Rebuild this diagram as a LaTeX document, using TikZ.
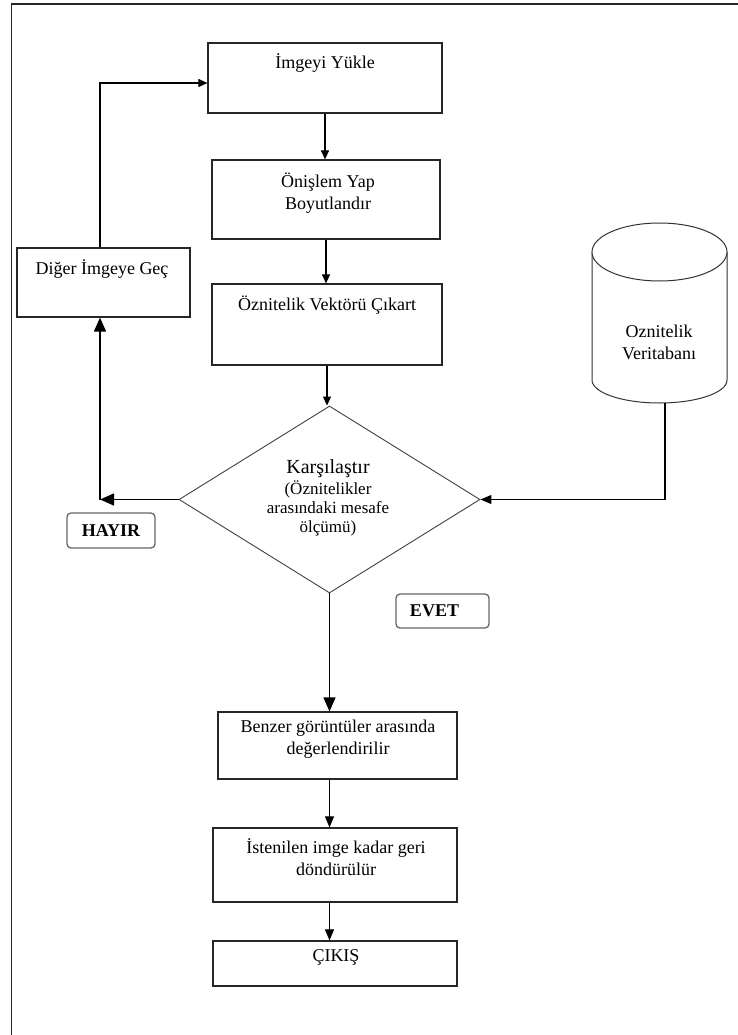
\documentclass[tikz,border=0pt]{standalone}
\usepackage{fontspec}
\setmainfont{Liberation Serif}
\usetikzlibrary{arrows.meta,shapes.geometric}
\begin{document}
\begin{tikzpicture}[x=1pt,y=-1pt,
 box/.style={draw=black!85, line width=1.2pt, rectangle, inner sep=0pt},
 txt/.style={inner sep=0pt, align=center, font=\fontsize{18}{22}\selectfont},
 flag/.style={draw=black!60, line width=1.3pt, rounded corners=4pt, rectangle, inner sep=0pt},
 flagtxt/.style={inner sep=0pt, font=\fontsize{18}{22}\selectfont\bfseries},
 conn/.style={draw=black, line width=1.1pt},
 arrS/.style={conn, -{Triangle[length=9pt,width=8pt]}},
 arrM/.style={conn, -{Triangle[length=11pt,width=9pt]}},
 arrL/.style={conn, line width=1.4pt, -{Triangle[length=14pt,width=12pt]}},
]
\useasboundingbox (0,0) rectangle (738,1035);
% frame
\draw[line width=1.6pt, black!85] (11.5,1035) -- (11.5,4) -- (738,4);

% boxes
\node[box, minimum width=234pt, minimum height=70pt] (load) at (325,78) {};
\node[txt] (loadt) at (325,63) {İmgeyi Yükle};

\node[box, minimum width=228pt, minimum height=79pt] (pre) at (326,199.5) {};
\node[txt] (pret) at (328,193) {Önişlem Yap\\Boyutlandır};

\node[box, minimum width=230pt, minimum height=81pt] (feat) at (327,324.5) {};
\node[txt] (featt) at (327,305) {Öznitelik Vektörü Çıkart};

\node[box, minimum width=173pt, minimum height=69pt] (next) at (103.5,282.5) {};
\node[txt] (nextt) at (102,269) {Diğer İmgeye Geç};

% decision
\node[diamond, draw=black!75, line width=0.9pt, minimum width=301pt, minimum height=187pt, inner sep=0pt] (cmp) at (329.5,499.5) {};
\node[inner sep=0pt, align=center, font=\fontsize{17}{19}\selectfont] (cmpt) at (328,498)
 {{\fontsize{20}{19}\selectfont Karşılaştır}\\[2pt](Öznitelikler\\arasındaki mesafe\\ölçümü)};

% database cylinder
\draw[line width=1pt, black!80] (592,252) -- (592,380) arc[start angle=180, end angle=360, x radius=67.5pt, y radius=23pt] -- (727,252);
\draw[line width=1pt, black!80, fill=white] (659.5,252) ellipse [x radius=67.5pt, y radius=29pt];
\node[txt] (dbt) at (659,342) {Oznitelik\\Veritabanı};
\coordinate (dbb) at (665,403);

% flags
\node[flag, minimum width=88pt, minimum height=35pt] (no) at (111,530.5) {};
\node[flagtxt] (not) at (111,530.5) {HAYIR};
\node[flag, minimum width=93pt, minimum height=34pt] (yes) at (442.5,611) {};
\node[flagtxt] (yest) at (434.5,611) {EVET};

% lower boxes
\node[box, minimum width=239pt, minimum height=67pt] (eval) at (337.5,745.5) {};
\node[txt] (evalt) at (338,739) {Benzer görüntüler arasında\\değerlendirilir};

\node[box, minimum width=244pt, minimum height=74pt] (ret) at (335,865) {};
\node[txt] (rett) at (336,857.5) {İstenilen imge kadar geri\\döndürülür};

\node[box, minimum width=244pt, minimum height=45pt] (out) at (335,963.5) {};
\node[txt] (outt) at (336,957) {ÇIKIŞ};

% connectors
\draw[arrS] (load.south) -- (load.south |- pre.north);
\draw[arrS] (pre.south) -- (pre.south |- feat.north);
\draw[arrS] (feat.south) -- (feat.south |- cmp.north);
\draw[arrM] (dbb) |- (cmp.east);

\coordinate (hc) at (100,499.5);
\draw[arrL] (cmp.west) -- (hc);
\draw[arrL] (hc) -- (hc |- next.south);
\draw[arrS] (next.north -| hc) |- ([yshift=-5pt]load.west);

\draw[arrL] (cmp.south) -- (cmp.south |- eval.north);
\draw[arrM] (eval.south -| cmp.south) -- (ret.north -| cmp.south);
\draw[arrM] (ret.south -| cmp.south) -- (out.north -| cmp.south);
\end{tikzpicture}
\end{document}
